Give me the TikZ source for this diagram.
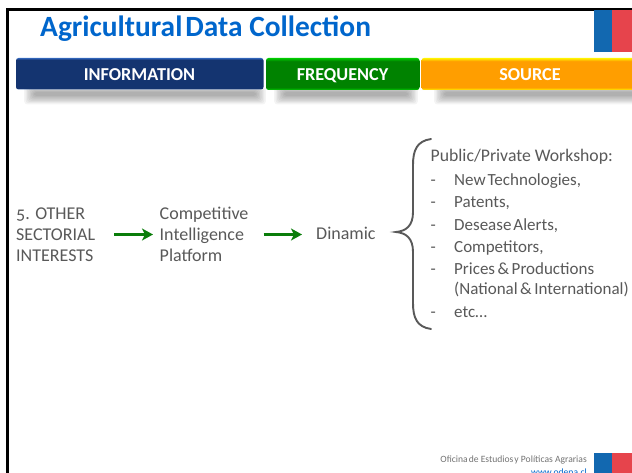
\documentclass[tikz,border=0pt]{standalone}
\usepackage{fontspec}
\setmainfont{Carlito}
\usetikzlibrary{arrows.meta}
\definecolor{txtgray}{RGB}{89,89,89}
\definecolor{titleblue}{RGB}{0,102,204}
\definecolor{navy}{RGB}{20,52,112}
\definecolor{navyedge}{RGB}{48,100,185}
\definecolor{grn}{RGB}{0,130,0}
\definecolor{grnedge}{RGB}{0,205,0}
\definecolor{org}{RGB}{255,158,0}
\definecolor{orgedge}{RGB}{255,245,0}
\definecolor{flagblue}{RGB}{18,104,176}
\definecolor{flagred}{RGB}{230,68,76}
\definecolor{arrowgreen}{RGB}{10,125,10}
\pgfdeclareverticalshading{navyshade}{100bp}{color(0bp)=(navyedge); color(25bp)=(navyedge); color(27bp)=(navy); color(72bp)=(navy); color(75bp)=(navyedge); color(100bp)=(navyedge)}
\pgfdeclareverticalshading{grnshade}{100bp}{color(0bp)=(grnedge); color(25bp)=(grnedge); color(29bp)=(grn); color(70bp)=(grn); color(75bp)=(grnedge); color(100bp)=(grnedge)}
\pgfdeclareverticalshading{orgshade}{100bp}{color(0bp)=(orgedge); color(25bp)=(orgedge); color(29bp)=(org); color(70bp)=(org); color(75bp)=(orgedge); color(100bp)=(orgedge)}
\tikzset{
  x=1pt,y=-1pt,
  body/.style={font=\fontsize{18}{21}\selectfont\addfontfeatures{Numbers=OldStyle},text=txtgray,anchor=base west,inner sep=0pt},
  lst/.style={font=\fontsize{17}{21}\selectfont,text=txtgray,anchor=base west,inner sep=0pt},
  hdrtxt/.style={text=white,font=\bfseries\fontsize{18.2}{20}\selectfont,inner sep=0pt,anchor=base},
  flow/.style={-{Stealth[length=11pt,width=12pt,inset=3pt]},arrowgreen,line width=2.2pt},
  foot/.style={anchor=east,inner sep=0pt,font=\fontsize{9.6}{10}\selectfont}
}
\newcommand{\softshadow}[4]{%
  \foreach \g in {7,6,5,4,3,2,1,0}{
    \fill[black,opacity=.045,rounded corners=3pt] (#1-\g*1.4,#2-\g*.9) rectangle (#3+\g*1.4,#4+\g*1.2);
  }}
\begin{document}
\begin{tikzpicture}
\useasboundingbox (0,0) rectangle (632,473);
\fill[white] (0,0) rectangle (632,473);
% frame
\draw[black,line width=2.6pt] (7.5,473) -- (7.5,9.3) -- (632,9.3);
% title
\node[anchor=base west,inner sep=0pt,text=titleblue,font=\bfseries\fontsize{29.4}{32}\selectfont] (title) at (40,37) {Agricultural\kern3pt Data Collection};
% flag top
\fill[flagblue] (594,10) rectangle (611.7,52);
\fill[flagred] (611.7,10) rectangle (632,52);
% header shadows
\begin{scope}
\clip (0,89) rectangle (632,120);
\softshadow{34}{92}{256}{96}
\softshadow{284}{92}{408}{96}
\softshadow{444}{92}{640}{96}
\end{scope}
% headers
\path[rounded corners=2.5pt,shade,shading=navyshade] (16,58) rectangle (263.5,89.5);
\path[rounded corners=2.5pt,shade,shading=grnshade] (266,58) rectangle (419.5,90);
\path[rounded corners=2.5pt,shade,shading=orgshade] (421.5,58) rectangle (645,90);
\node[hdrtxt] (info) at (139.5,81) {INFORMATION};
\node[hdrtxt] (freq) at (342.5,81) {FREQUENCY};
\node[hdrtxt] (src) at (530,81) {SOURCE};
% flow
\node[body] (a) at (16,219.5) {5. OTHER};
\node[body] (a2) at (16,240.5) {SECTORIAL};
\node[body] (a3) at (16,261.5) {INTERESTS};
\node[body] (b) at (159.5,219.5) {Competitive};
\node[body] (b2) at (159.5,240.5) {Intelligence};
\node[body] (b3) at (159.5,261.5) {Platform};
\node[body] (c) at (316,240) {Dinamic};
\coordinate (a1) at (114,234.5);
\coordinate (b0) at (153,234.5);
\coordinate (b1) at (263.5,234.5);
\coordinate (c0) at (302,234.5);
\draw[flow] (a1) -- (b0);
\draw[flow] (b1) -- (c0);
% brace
\draw[txtgray,line width=1.9pt,line cap=round] (431,139) .. controls (417,141) and (413,150) .. (413,165)
  -- (413,212) .. controls (413,226) and (406,231) .. (396,232)
  .. controls (406,233) and (413,238) .. (413,252)
  -- (413,303) .. controls (413,318) and (417,327) .. (431,329);
% list
\node[lst,font=\fontsize{17.7}{21}\selectfont] (l0) at (430.5,161.5) {Public/Private Workshop:};
\node[lst] (d1) at (430.5,185.5) {-};
\node[lst] (t1) at (454,185.5) {New\kern2pt Technologies,};
\node[lst] (d2) at (430.5,208) {-};
\node[lst] (t2) at (454,208) {Patents,};
\node[lst] (d3) at (430.5,230.5) {-};
\node[lst] (t3) at (454,230.5) {Desease\kern2pt Alerts,};
\node[lst] (d4) at (430.5,252.5) {-};
\node[lst] (t4) at (454,252.5) {Competitors,};
\node[lst] (d5) at (430.5,274.5) {-};
\node[lst] (t5) at (454,274.5) {Prices\kern2.5pt\&\kern2.5pt Productions};
\node[lst] (t6) at (454,294.5) {(National\kern2.5pt\&\kern2.5pt International)};
\node[lst] (d7) at (430.5,317) {-};
\node[lst] (t7) at (454,317) {etc…};
% footer
\node[foot,text=black!55] (fo) at (587,460) {Oficina\kern1pt de Estudios\kern1pt y Políticas Agrarias};
\node[foot,text=titleblue] (web) at (587,472.5) {www.odepa.cl};
\fill[flagblue] (594,453) rectangle (611.7,473);
\fill[flagred] (611.7,453) rectangle (632,473);
\end{tikzpicture}
\end{document}
